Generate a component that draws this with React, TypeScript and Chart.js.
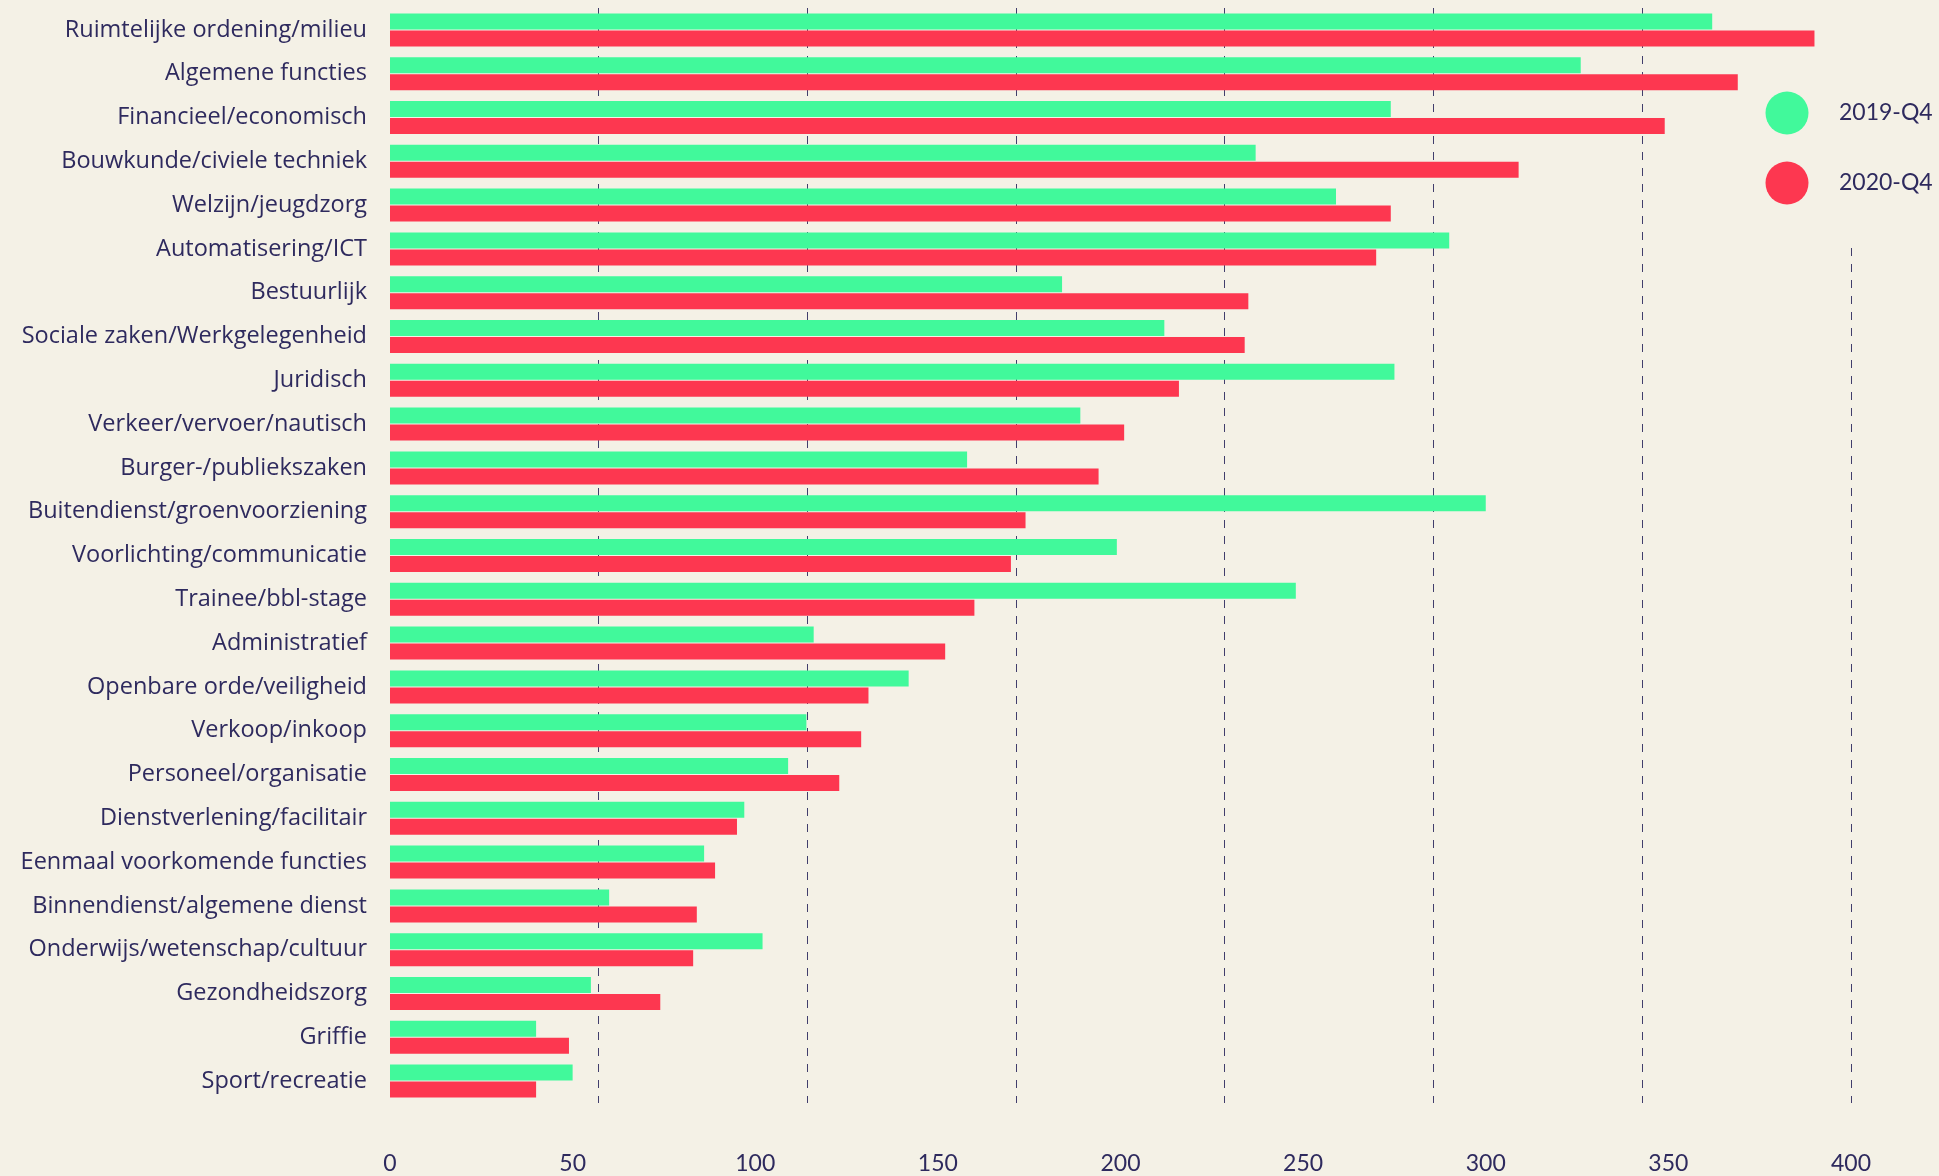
import React, { useEffect, useRef } from "react";
import { Chart, registerables } from "chart.js";

Chart.register(...registerables);

const categories = [
  "Ruimtelijke ordening/milieu",
  "Algemene functies",
  "Financieel/economisch",
  "Bouwkunde/civiele techniek",
  "Welzijn/jeugdzorg",
  "Automatisering/ICT",
  "Bestuurlijk",
  "Sociale zaken/Werkgelegenheid",
  "Juridisch",
  "Verkeer/vervoer/nautisch",
  "Burger-/publiekszaken",
  "Buitendienst/groenvoorziening",
  "Voorlichting/communicatie",
  "Trainee/bbl-stage",
  "Administratief",
  "Openbare orde/veiligheid",
  "Verkoop/inkoop",
  "Personeel/organisatie",
  "Dienstverlening/facilitair",
  "Eenmaal voorkomende functies",
  "Binnendienst/algemene dienst",
  "Onderwijs/wetenschap/cultuur",
  "Gezondheidszorg",
  "Griffie",
  "Sport/recreatie",
];

const values2019 = [362, 326, 274, 237, 259, 290, 184, 212, 275, 189, 158, 300, 199, 248, 116, 142, 114, 109, 97, 86, 60, 102, 55, 40, 50];
const values2020 = [390, 369, 349, 309, 274, 270, 235, 234, 216, 201, 194, 174, 170, 160, 152, 131, 129, 123, 95, 89, 84, 83, 74, 49, 40];

const seriesLabels = ["2019-Q4", "2020-Q4"];
const xTickValues = [0, 50, 100, 150, 200, 250, 300, 350, 400];
const gridSteps = 7;

const BG = "#F4F1E6";
const GREEN = "#41F99B";
const RED = "#FD3750";
const INK = "#2E2A5E";
const FONT = "Lato, 'Open Sans', sans-serif";
const LABEL_FONT = "'Open Sans', Lato, sans-serif";

export default function App() {
  const ref = useRef<HTMLCanvasElement>(null);

  useEffect(() => {
    if (!ref.current) return;
    const colors = [GREEN, RED];

    const legendPlugin = {
      id: "customLegend",
      beforeDatasetsDraw(chart: any) {
        const ctx = chart.ctx;
        const gx = chart.scales.x2.getPixelForValue(gridSteps);
        ctx.save();
        ctx.fillStyle = BG;
        ctx.fillRect(gx - 4, 0, 8, 241);
        ctx.restore();
      },
      afterDraw(chart: any) {
        const ctx = chart.ctx;
        ctx.save();
        seriesLabels.forEach((lab, i) => {
          const cy = 113 + i * 70;
          ctx.beginPath();
          ctx.arc(1787, cy, 21.5, 0, Math.PI * 2);
          ctx.fillStyle = colors[i];
          ctx.fill();
          ctx.fillStyle = INK;
          ctx.font = `23px ${FONT}`;
          ctx.textAlign = "left";
          ctx.textBaseline = "middle";
          ctx.fillText(lab, 1839, cy);
        });
        ctx.restore();
      },
    };

    const zeroPad = (s: any) => {
      s.paddingTop = 0;
      s.paddingBottom = 0;
      s.paddingLeft = 0;
      s.paddingRight = 0;
    };

    const chart = new Chart(ref.current, {
      type: "bar",
      data: {
        labels: categories,
        datasets: [
          {
            label: seriesLabels[0],
            data: values2019,
            backgroundColor: GREEN,
            categoryPercentage: 0.776,
            barPercentage: 0.94,
          },
          {
            label: seriesLabels[1],
            data: values2020,
            backgroundColor: RED,
            categoryPercentage: 0.776,
            barPercentage: 0.94,
          },
        ],
      },
      options: {
        indexAxis: "y",
        responsive: true,
        maintainAspectRatio: false,
        animation: false,
        layout: { padding: { top: 8, right: 88, left: 0, bottom: 0 } },
        plugins: {
          legend: { display: false },
          tooltip: { enabled: false },
        },
        scales: {
          x: {
            type: "linear",
            position: "bottom",
            min: 0,
            max: 400,
            afterBuildTicks: (s: any) => {
              s.ticks = xTickValues.map((v) => ({ value: v }));
            },
            grid: { display: false, drawTicks: false },
            border: { display: false },
            ticks: {
              color: INK,
              font: { family: FONT, size: 23 },
              padding: 47,
              maxRotation: 0,
            },
            afterFit: (s: any) => {
              s.height = 73;
              zeroPad(s);
            },
          },
          x2: {
            type: "linear",
            position: "top",
            min: 0,
            max: gridSteps,
            ticks: { display: false, stepSize: 1 },
            grid: {
              drawTicks: false,
              lineWidth: 1,
              color: (c: any) => (c.index === 0 ? "rgba(0,0,0,0)" : "rgba(46,42,94,0.9)"),
            },
            border: { display: false, dash: [8, 8] },
            afterFit: (s: any) => {
              s.height = 0;
              zeroPad(s);
            },
          },
          y: {
            grid: { display: false, drawTicks: false },
            border: { display: false },
            ticks: {
              color: INK,
              font: { family: LABEL_FONT, size: 23.5 },
              padding: 23,
              autoSkip: false,
            },
            afterFit: (s: any) => {
              s.width = 390;
              zeroPad(s);
            },
          },
        },
      },
      plugins: [legendPlugin],
    } as any);

    return () => chart.destroy();
  }, []);

  return (
    <div
      style={{
        position: "fixed",
        left: 0,
        top: 0,
        width: "1939px",
        height: "1176px",
        background: BG,
      }}
    >
      <canvas ref={ref} />
    </div>
  );
}
